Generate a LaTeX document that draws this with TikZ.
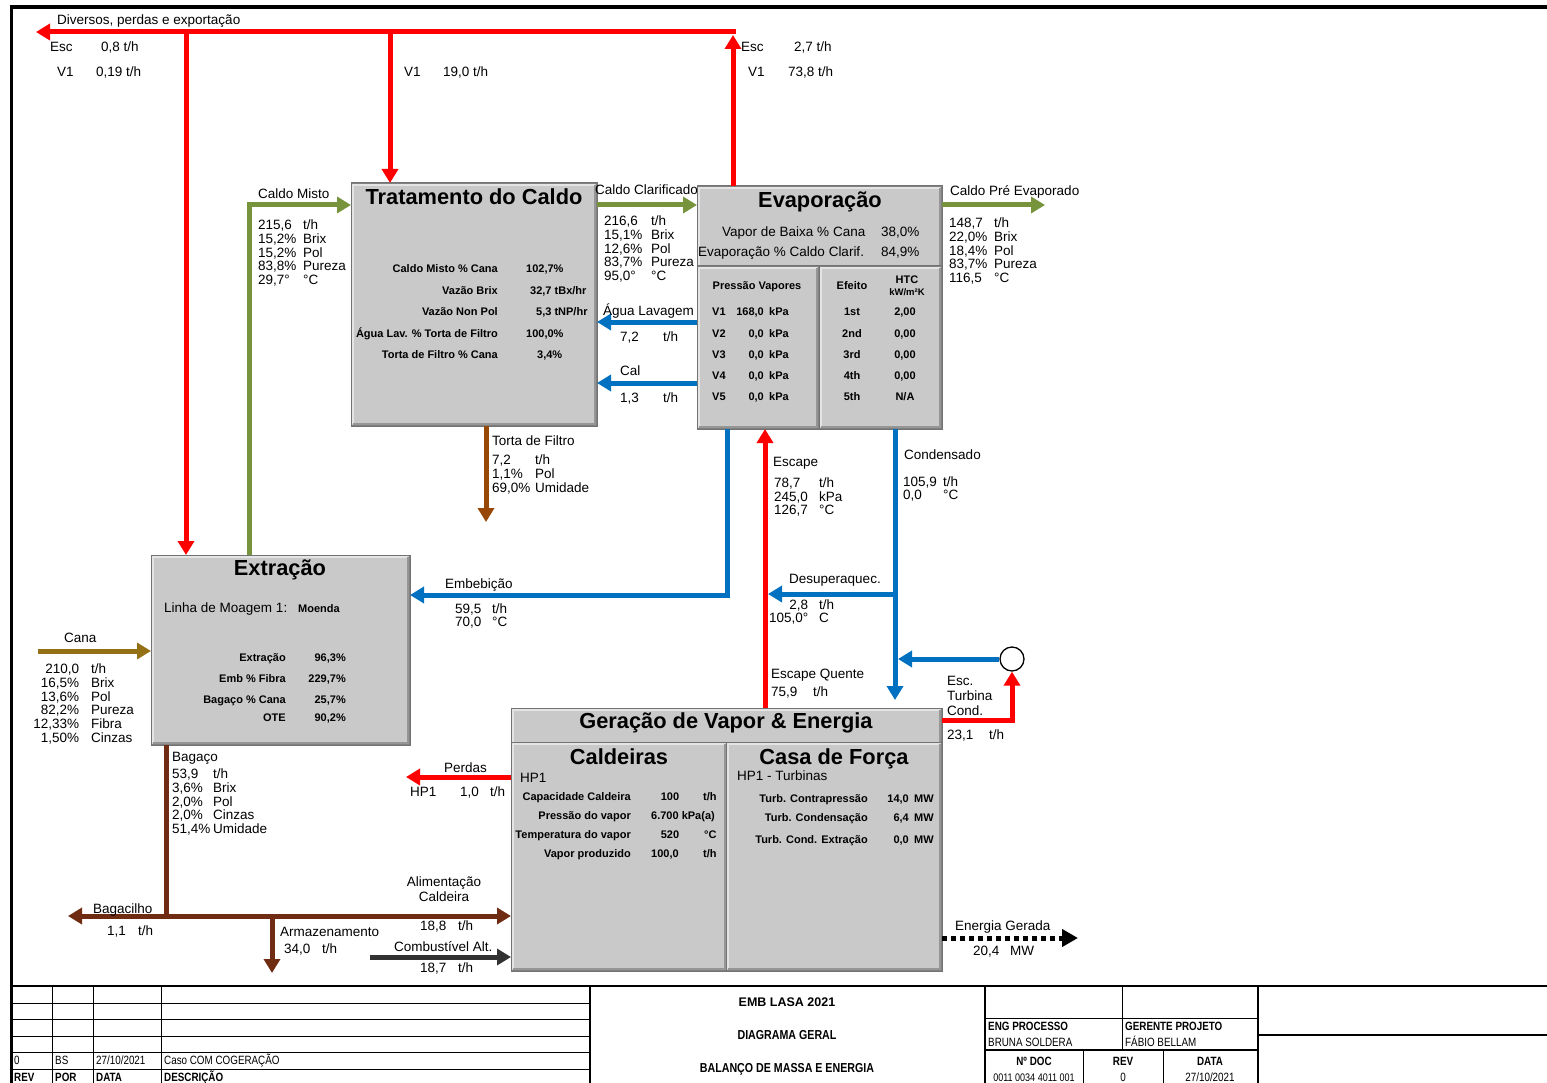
\documentclass[tikz,border=0pt]{standalone}
\usepackage{fontspec}
\setmainfont{Liberation Sans}
\newfontfamily\nar[FakeStretch=0.82]{Liberation Sans}
\usepackage{array}
\usetikzlibrary{arrows.meta,calc}
\definecolor{redc}{RGB}{255,0,0}
\definecolor{grnc}{RGB}{119,147,60}
\definecolor{bluc}{RGB}{0,112,192}
\definecolor{tortc}{RGB}{152,72,6}
\definecolor{canc}{RGB}{148,112,20}
\definecolor{bagc}{RGB}{112,44,18}
\definecolor{cmbc}{RGB}{50,50,50}
\definecolor{boxc}{RGB}{201,201,201}
\definecolor{bevL}{RGB}{228,228,228}
\definecolor{bevD}{RGB}{150,150,150}
\tikzset{
  >={Triangle[width=16pt,length=14pt]},
  flow/.style={line width=5pt, line join=miter},
  fr/.style={flow, draw=redc},
  fg/.style={flow, draw=grnc},
  fb/.style={flow, draw=bluc},
  ft/.style={flow, draw=tortc},
  fc/.style={flow, draw=canc},
  fbag/.style={flow, draw=bagc},
  fcmb/.style={flow, draw=cmbc},
  pbox/.style={anchor=north west, draw=black!50, fill=boxc, line width=1pt, inner sep=0pt},
  lb/.style={font=\fontsize{13.5}{13.6}\selectfont, inner sep=0pt, anchor=base west, yshift=-4.8pt},
  lbc/.style={lb, anchor=base},
  lbr/.style={lb, anchor=base east},
  bs/.style={font=\bfseries\fontsize{11}{12}\selectfont, inner sep=0pt, anchor=base west, yshift=-3.95pt},
  bsc/.style={bs, anchor=base},
  bsr/.style={bs, anchor=base east},
  ttl/.style={font=\bfseries\fontsize{21.8}{22}\selectfont, inner sep=0pt, anchor=base, yshift=-7.8pt},
  dat/.style={font=\fontsize{13.5}{13.6}\selectfont, inner sep=0pt, anchor=north west, yshift=4.7pt},
  tb/.style={font=\nar\fontsize{12}{12}\selectfont, inner sep=0pt, anchor=base west, yshift=-4.3pt},
  tbb/.style={tb, font=\nar\bfseries\fontsize{12}{12}\selectfont},
  tbc/.style={tb, anchor=base},
  tbbc/.style={tbb, anchor=base},
  tl/.style={line width=0.8pt, draw=black},
}
\newcommand\mkL[4]{\node[lb] (#1) at (#2,#3) {#4};}
\newcommand\mkLc[4]{\node[lbc] (#1) at (#2,#3) {#4};}
\newcommand\mkB[4]{\node[bs] (#1) at (#2,#3) {#4};}
\newcommand\mkBc[4]{\node[bsc] (#1) at (#2,#3) {#4};}
\newcommand\mkBr[4]{\node[bsr] (#1) at (#2,#3) {#4};}
\newcommand\mkD[5]{\node[dat] (#1) at (#2,#3) {\begin{tabular}{@{}p{#4pt}@{}l@{}}#5\end{tabular}};}
\newcommand\mkDR[5]{\node[dat] (#1) at (#2,#3) {\begin{tabular}{@{}>{\raggedleft\arraybackslash}p{#4pt}@{\hspace{12pt}}l@{}}#5\end{tabular}};}
\newcommand\mkBox[5]{%
  \node[pbox, minimum width=#4pt, minimum height=#5pt] (#1) at (#2,#3) {};
  \draw[line width=2.5pt, bevL] ([shift={(2pt,2.5pt)}]#1.south west) -- ([shift={(2pt,-2pt)}]#1.north west) -- ([shift={(-2.5pt,-2pt)}]#1.north east);
  \draw[line width=2.5pt, bevD] ([shift={(-2pt,-2pt)}]#1.north east) -- ([shift={(-2pt,2pt)}]#1.south east) -- ([shift={(2pt,2pt)}]#1.south west);
  \draw[black!55, line width=1pt] (#1.north west) rectangle (#1.south east);}
\begin{document}
\begin{tikzpicture}[x=1pt,y=-1pt]
\useasboundingbox (0,0) rectangle (1547,1083);
\fill[white] (0,0) rectangle (1547,1083);

% ---------- boxes ----------
\mkBox{trat}{351}{183}{245}{242}
\mkBox{evap}{697}{186}{244}{242}
\mkBox{evL}{697}{266}{121}{162}
\mkBox{evR}{819}{266}{122}{162}
\mkBox{extr}{151}{555}{258}{189}
\mkBox{ger}{511}{708}{430}{262}
\mkBox{cald}{511}{742}{215}{228}
\mkBox{casa}{726}{742}{215}{228}

% ---------- coordinates ----------
\coordinate (tR) at (733,35);
\coordinate (tRc) at (735.5,32);
\coordinate (tL) at (36,32);
\coordinate (t390) at (390,32);
\coordinate (t186) at (186,32);
\coordinate (cmx) at (249,205);
\coordinate (cpe) at (1045,205);
\coordinate (agy) at (650,322);
\coordinate (caly) at (650,383);
\coordinate (torta) at (486,522);
\coordinate (emb) at (727,595);
\coordinate (esc) at (765,500);
\coordinate (cond) at (895,700);
\coordinate (desup) at (895,594);
\coordinate (desupE) at (768,594);
\coordinate (circE) at (898,659);
\coordinate (etc) at (1012,720);
\coordinate (canaS) at (38,651);
\coordinate (bagJ) at (166,916);
\coordinate (bagL) at (68,916);
\coordinate (armJ) at (272,916);
\coordinate (armE) at (272,973);
\coordinate (combS) at (370,957);
\coordinate (perE) at (406,777);
\coordinate (enE) at (1078,938);

\node[circle, draw=black, line width=1.3pt, fill=white, minimum size=24pt, inner sep=0pt] (circ) at (1012,659) {};

% ---------- flows ----------
\draw[fr,->] (tR |- evap.north) -- (tR);
\draw[fr,->] (tRc) -- (tL);
\draw[fr,->] (t390) -- (t390 |- trat.north);
\draw[fr,->] (t186) -- (t186 |- extr.north);
\draw[fg,->] (cmx |- extr.north) -- (cmx) -- (cmx -| trat.west);
\draw[fg,->] (trat.east |- cmx) -- (evap.west |- cmx);
\draw[fg,->] (evap.east |- cmx) -- (cpe);
\draw[fb,->] (evap.west |- agy) -- (trat.east |- agy);
\draw[fb,->] (evap.west |- caly) -- (trat.east |- caly);
\draw[ft,->] (torta |- trat.south) -- (torta);
\draw[fb,->] (emb |- evap.south) -- (emb) -- (emb -| extr.east);
\draw[fr,->] (esc |- ger.north) -- (esc |- evap.south);
\draw[fb,->] (cond |- evap.south) -- (cond);
\draw[fb,->] (desup) -- (desupE);
\draw[fb,->] (circ.west) -- (circE);
\draw[fr,->] (ger.east |- etc) -- (etc) -- (circ.south);
\draw[fc,->] (canaS) -- (canaS -| extr.west);
\draw[fbag] (bagJ |- extr.south) -- (bagJ);
\draw[fbag,->] (bagJ) -- (bagL);
\draw[fbag,->] (bagJ) -- (bagJ -| ger.west);
\draw[fbag,->] (armJ) -- (armE);
\draw[fcmb,->] (combS) -- (combS -| ger.west);
\draw[fr,->] (ger.west |- perE) -- (perE);
\draw[line width=5pt, dash pattern=on 5pt off 4pt, -{Triangle[width=17pt,length=16pt]}] (ger.east |- enE) -- (enE);

% ---------- top labels ----------
\mkL{tDiv}{57}{20}{Diversos, perdas e exportação}
\mkL{tEsc1}{50}{47}{Esc}
\mkL{tEsc1v}{101}{47}{0,8 t/h}
\mkL{tV1a}{57}{72}{V1}
\mkL{tV1av}{96}{72}{0,19 t/h}
\mkL{tV1b}{404}{72}{V1}
\mkL{tV1bv}{443}{72}{19,0 t/h}
\mkL{tEsc2}{741}{47}{Esc}
\mkL{tEsc2v}{794}{47}{2,7 t/h}
\mkL{tV1c}{748}{72}{V1}
\mkL{tV1cv}{788}{72}{73,8 t/h}

% ---------- Tratamento ----------
\node[ttl] (tratT) at (474,197) {Tratamento do Caldo};
\mkBr{tr1}{498}{269}{Caldo Misto \% Cana}
\mkB{tr1v}{526}{269}{102,7\%}
\mkBr{tr2}{498}{291}{Vazão Brix}
\mkB{tr2v}{530}{291}{32,7 tBx/hr}
\mkBr{tr3}{498}{312}{Vazão Non Pol}
\mkB{tr3v}{536}{312}{5,3 tNP/hr}
\mkBr{tr4}{498}{334}{Água Lav. \% Torta de Filtro}
\mkB{tr4v}{526}{334}{100,0\%}
\mkBr{tr5}{498}{355}{Torta de Filtro \% Cana}
\mkB{tr5v}{537}{355}{3,4\%}

\mkL{cmL}{258}{194}{Caldo Misto}
\mkD{cmD}{258}{224}{45}{215,6 & t/h\\ 15,2\% & Brix\\ 15,2\% & Pol\\ 83,8\% & Pureza\\ 29,7° & °C}
\mkL{ccL}{595}{190}{Caldo Clarificado}
\mkD{ccD}{604}{220}{47}{216,6 & t/h\\ 15,1\% & Brix\\ 12,6\% & Pol\\ 83,7\% & Pureza\\ 95,0° & °C}
\mkL{cpL}{950}{191}{Caldo Pré Evaporado}
\mkD{cpD}{949}{222}{45}{148,7 & t/h\\ 22,0\% & Brix\\ 18,4\% & Pol\\ 83,7\% & Pureza\\ 116,5 & °C}
\mkL{agL}{603}{311}{Água Lavagem}
\mkL{agV}{620}{337}{7,2}
\mkL{agU}{663}{337}{t/h}
\mkL{caL}{620}{371}{Cal}
\mkL{caV}{620}{398}{1,3}
\mkL{caU}{663}{398}{t/h}
\mkL{toL}{492}{441}{Torta de Filtro}
\mkD{toD}{492}{459}{43}{7,2 & t/h\\ 1,1\% & Pol\\ 69,0\% & Umidade}

% ---------- Evaporação ----------
\node[ttl] (evT) at (820,200) {Evaporação};
\mkL{ev1}{722}{232}{Vapor de Baixa \% Cana}
\mkL{ev1v}{881}{232}{38,0\%}
\mkL{ev2}{698}{252}{Evaporação \% Caldo Clarif.}
\mkL{ev2v}{881}{252}{84,9\%}
\mkBc{pvT}{757}{286}{Pressão Vapores}
\mkBc{efT}{852}{286}{Efeito}
\mkBc{htT}{907}{280}{HTC}
\node[bsc, font=\bfseries\fontsize{9.5}{10}\selectfont] (htU) at (907,292) {kW/m²K};
\mkB{v1}{712}{312}{V1}\mkBr{v1v}{764}{312}{168,0}\mkB{v1u}{769}{312}{kPa}
\mkB{v2}{712}{334}{V2}\mkBr{v2v}{764}{334}{0,0}\mkB{v2u}{769}{334}{kPa}
\mkB{v3}{712}{355}{V3}\mkBr{v3v}{764}{355}{0,0}\mkB{v3u}{769}{355}{kPa}
\mkB{v4}{712}{376}{V4}\mkBr{v4v}{764}{376}{0,0}\mkB{v4u}{769}{376}{kPa}
\mkB{v5}{712}{397}{V5}\mkBr{v5v}{764}{397}{0,0}\mkB{v5u}{769}{397}{kPa}
\mkBc{e1}{852}{312}{1st}\mkBc{h1}{905}{312}{2,00}
\mkBc{e2}{852}{334}{2nd}\mkBc{h2}{905}{334}{0,00}
\mkBc{e3}{852}{355}{3rd}\mkBc{h3}{905}{355}{0,00}
\mkBc{e4}{852}{376}{4th}\mkBc{h4}{905}{376}{0,00}
\mkBc{e5}{852}{397}{5th}\mkBc{h5}{905}{397}{N/A}

% ---------- middle labels ----------
\mkL{esL}{773}{462}{Escape}
\mkD{esD}{774}{482}{45}{78,7 & t/h\\ 245,0 & kPa\\ 126,7 & °C}
\mkL{coL}{904}{455}{Condensado}
\mkD{coD}{903}{481}{40}{105,9 & t/h\\ 0,0 & °C}
\mkL{emL}{445}{584}{Embebição}
\mkD{emD}{455}{608}{37}{59,5 & t/h\\ 70,0 & °C}
\mkL{dsL}{789}{579}{Desuperaquec.}
\node[dat] (dsD) at (758,604) {\begin{tabular}{@{}>{\raggedleft\arraybackslash}p{50pt}@{\hspace{11pt}}l@{}}2,8 & t/h\\ 105,0° & C\end{tabular}};
\mkL{eqL}{771}{674}{Escape Quente}
\mkL{eqV}{771}{692}{75,9}
\mkL{eqU}{813}{692}{t/h}
\mkL{etL1}{947}{681}{Esc.}
\mkL{etL2}{947}{696}{Turbina}
\mkL{etL3}{947}{711}{Cond.}
\mkL{etV}{947}{735}{23,1}
\mkL{etU}{989}{735}{t/h}

% ---------- Extração ----------
\node[ttl] (exT) at (280,568) {Extração};
\mkL{exL}{164}{608}{Linha de Moagem 1:}
\mkB{exM}{298}{609}{Moenda}
\mkBr{ex1}{286}{658}{Extração}\mkBr{ex1v}{346}{658}{96,3\%}
\mkBr{ex2}{286}{679}{Emb \% Fibra}\mkBr{ex2v}{346}{679}{229,7\%}
\mkBr{ex3}{286}{700}{Bagaço \% Cana}\mkBr{ex3v}{346}{700}{25,7\%}
\mkBr{ex4}{286}{718}{OTE}\mkBr{ex4v}{346}{718}{90,2\%}
\mkL{caNL}{64}{638}{Cana}
\mkDR{caND}{29}{668}{50}{210,0 & t/h\\ 16,5\% & Brix\\ 13,6\% & Pol\\ 82,2\% & Pureza\\ 12,33\% & Fibra\\ 1,50\% & Cinzas}
\mkL{bgL}{172}{757}{Bagaço}
\mkD{bgD}{172}{773}{41}{53,9 & t/h\\ 3,6\% & Brix\\ 2,0\% & Pol\\ 2,0\% & Cinzas\\ 51,4\% & Umidade}
\mkL{bcL}{93}{909}{Bagacilho}
\mkL{bcV}{107}{931}{1,1}
\mkL{bcU}{138}{931}{t/h}
\mkL{arL}{280}{932}{Armazenamento}
\mkL{arV}{284}{949}{34,0}
\mkL{arU}{322}{949}{t/h}
\mkLc{alL1}{444}{882}{Alimentação}
\mkLc{alL2}{444}{897}{Caldeira}
\mkL{alV}{420}{926}{18,8}
\mkL{alU}{458}{926}{t/h}
\mkL{cbL}{394}{947}{Combustível Alt.}
\mkL{cbV}{420}{968}{18,7}
\mkL{cbU}{458}{968}{t/h}
\mkL{peL}{444}{768}{Perdas}
\mkL{peH}{410}{792}{HP1}
\mkL{peV}{460}{792}{1,0}
\mkL{peU}{490}{792}{t/h}
\mkL{enL}{955}{926}{Energia Gerada}
\mkL{enV}{973}{951}{20,4}
\mkL{enU}{1010}{951}{MW}

% ---------- Geração ----------
\node[ttl] (geT) at (726,721) {Geração de Vapor \& Energia};
\node[ttl] (caT) at (619,757) {Caldeiras};
\node[ttl] (csT) at (834,757) {Casa de Força};
\mkL{cHP}{520}{778}{HP1}
\mkBr{cd1}{631}{797}{Capacidade Caldeira}\mkBc{cd1v}{670}{797}{100}\mkB{cd1u}{703}{797}{t/h}
\mkBr{cd2}{631}{816}{Pressão do vapor}\mkB{cd2v}{651}{816}{6.700 kPa(a)}
\mkBr{cd3}{631}{835}{Temperatura do vapor}\mkBc{cd3v}{670}{835}{520}\mkB{cd3u}{704}{835}{°C}
\mkBr{cd4}{631}{854}{Vapor produzido}\mkBc{cd4v}{665}{854}{100,0}\mkB{cd4u}{703}{854}{t/h}
\mkL{sHP}{737}{776}{HP1 - Turbinas}
\mkBr{cs1}{868}{799}{Turb. Contrapressão}\mkBr{cs1v}{909}{799}{14,0}\mkB{cs1u}{914}{799}{MW}
\mkBr{cs2}{868}{818}{Turb. Condensação}\mkBr{cs2v}{909}{818}{6,4}\mkB{cs2u}{914}{818}{MW}
\mkBr{cs3}{868}{840}{Turb. Cond. Extração}\mkBr{cs3v}{909}{840}{0,0}\mkB{cs3u}{914}{840}{MW}

% ---------- frame ----------
\draw[line width=3.5pt] (9.5,7) -- (1547,7);
\draw[line width=3pt] (11,5.5) -- (11,1083);
\draw[line width=2.5pt] (11,986) -- (1547,986);

% title block left
\foreach \yy in {1003,1019,1036,1052,1069} {\draw[tl] (11,\yy) -- (590,\yy);}
\foreach \xx in {52,93,161} {\draw[tl] (\xx,986) -- (\xx,1083);}
\draw[line width=1.5pt] (590,986) -- (590,1083);
\node[tb] (b1) at (14,1060) {0};
\node[tb] (b2) at (55,1060) {BS};
\node[tb] (b3) at (96,1060) {27/10/2021};
\node[tb] (b4) at (164,1060) {Caso COM COGERAÇÃO};
\node[tbb] (b5) at (14,1077) {REV};
\node[tbb] (b6) at (55,1077) {POR};
\node[tbb] (b7) at (96,1077) {DATA};
\node[tbb] (b8) at (164,1077) {DESCRIÇÃO};
% middle
\node[tbc, font=\bfseries\fontsize{12.5}{12.5}\selectfont] (m1) at (787,1002) {EMB LASA 2021};
\node[tbbc, font=\nar\bfseries\fontsize{13}{13}\selectfont] (m2) at (787,1035) {DIAGRAMA GERAL};
\node[tbbc, font=\nar\bfseries\fontsize{13}{13}\selectfont] (m3) at (787,1068) {BALANÇO DE MASSA E ENERGIA};
% right
\draw[line width=1.5pt] (985,986) -- (985,1083);
\draw[tl] (1122,986) -- (1122,1050);
\draw[line width=2pt] (1258,986) -- (1258,1083);
\draw[tl] (985,1018) -- (1258,1018);
\draw[line width=1.5pt] (985,1050) -- (1258,1050);
\draw[tl] (1083,1050) -- (1083,1083);
\draw[tl] (1163,1050) -- (1163,1083);
\draw[line width=2pt] (1258,1035) -- (1547,1035);
\node[tbb] (r1) at (988,1026) {ENG PROCESSO};
\node[tb] (r2) at (988,1042) {BRUNA SOLDERA};
\node[tbb] (r3) at (1125,1026) {GERENTE PROJETO};
\node[tb] (r4) at (1125,1042) {FÁBIO BELLAM};
\node[tbbc] (r5) at (1034,1061) {Nº DOC};
\node[tbc, font=\nar\fontsize{11}{11}\selectfont] (r6) at (1034,1077) {0011 0034 4011 001};
\node[tbbc] (r7) at (1123,1061) {REV};
\node[tbc] (r8) at (1123,1077) {0};
\node[tbbc] (r9) at (1210,1061) {DATA};
\node[tbc] (r10) at (1210,1077) {27/10/2021};
\end{tikzpicture}
\end{document}
